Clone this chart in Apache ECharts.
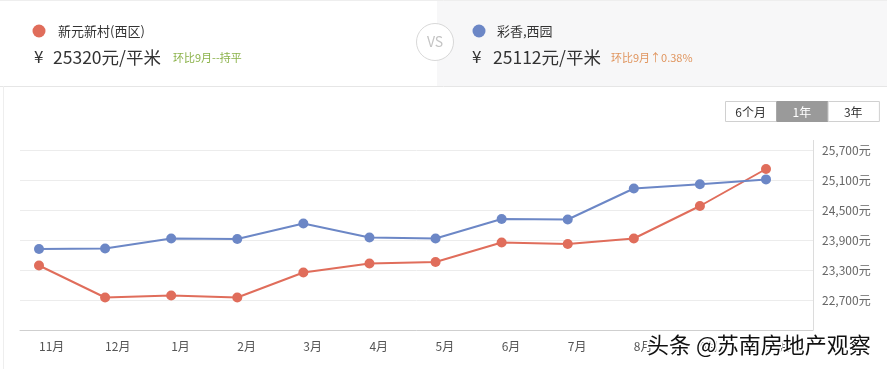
<!DOCTYPE html>
<html>
<head>
<meta charset="utf-8">
<script src="https://cdn.jsdelivr.net/npm/echarts@6/dist/echarts.min.js"></script>
<style>
html,body{margin:0;padding:0;background:#fff;}
#chart{width:887px;height:369px;}
</style>
</head>
<body>
<div id="chart"></div>
<script>
const months = ['11月','12月','1月','2月','3月','4月','5月','6月','7月','8月','9月','10月'];
const seriesAName = '新元新村(西区)';
const seriesBName = '彩香,西园';
const seriesA = [23390, 22750, 22790, 22750, 23250, 23430, 23460, 23850, 23820, 23930, 24580, 25320];
const seriesB = [23720, 23730, 23930, 23920, 24230, 23950, 23930, 24320, 24310, 24930, 25015, 25112];
const yMin = 22100, yMax = 25700, yStep = 600;
const currency = '¥';
const priceA = '25320元/平米', changeA = '环比9月--持平';
const priceB = '25112元/平米', changeB = '环比9月↑0.38%';
const rangeButtons = ['6个月', '1年', '3年'];
const watermark = '头条 @苏南房地产观察';

const RED = '#e06d5b', BLUE = '#6c87c6';
const FONT = '"Noto Sans CJK SC", "Noto Sans", sans-serif';

const chart = echarts.init(document.getElementById('chart'), null, {renderer: 'canvas'});

const graphics = [
  {type: 'rect', shape: {x: 437, y: 0, width: 450, height: 86}, style: {fill: '#f7f7f8'}, z: 0},
  {type: 'line', shape: {x1: 0, y1: 86.5, x2: 887, y2: 86.5}, style: {stroke: '#e6e6e6', lineWidth: 1}},
  {type: 'line', shape: {x1: 0, y1: 0.5, x2: 887, y2: 0.5}, style: {stroke: '#eeeeee', lineWidth: 1}},
  {type: 'line', shape: {x1: 3.5, y1: 86, x2: 3.5, y2: 369}, style: {stroke: '#eeeeee', lineWidth: 1}},
  {type: 'line', shape: {x1: 813.5, y1: 140, x2: 813.5, y2: 150}, style: {stroke: '#dcdcdc', lineWidth: 1}},
  {type: 'circle', shape: {cx: 435, cy: 42, r: 18.5}, style: {fill: '#fff', stroke: '#d8d8d8', lineWidth: 1}, z: 5},
  {type: 'text', x: 435, y: 42, style: {text: 'VS', fill: '#c4c4c4', font: '14px ' + FONT, align: 'center', verticalAlign: 'middle'}, z: 6},
  {type: 'circle', shape: {cx: 39, cy: 31, r: 6.5}, style: {fill: RED}},
  {type: 'text', x: 58, y: 31, style: {text: seriesAName, fill: '#333', font: '13px ' + FONT, verticalAlign: 'middle'}},
  {type: 'text', x: 34, y: 57, style: {text: currency, fill: '#333', font: '17px ' + FONT, verticalAlign: 'middle'}},
  {type: 'text', x: 53, y: 57, style: {text: priceA, fill: '#333', font: '17.5px ' + FONT, verticalAlign: 'middle'}},
  {type: 'text', x: 173, y: 58, style: {text: changeA, fill: '#8bb24a', font: '11px ' + FONT, verticalAlign: 'middle'}},
  {type: 'circle', shape: {cx: 479, cy: 31, r: 6.5}, style: {fill: BLUE}},
  {type: 'text', x: 497, y: 31, style: {text: seriesBName, fill: '#333', font: '13px ' + FONT, verticalAlign: 'middle'}},
  {type: 'text', x: 472, y: 57, style: {text: currency, fill: '#333', font: '17px ' + FONT, verticalAlign: 'middle'}},
  {type: 'text', x: 493, y: 57, style: {text: priceB, fill: '#333', font: '17.5px ' + FONT, verticalAlign: 'middle'}},
  {type: 'text', x: 611, y: 58, style: {text: changeB, fill: '#e0955e', font: '11px ' + FONT, verticalAlign: 'middle'}}
];
const bx0 = 725, bw = 51.3, by = 101, bh = 20;
rangeButtons.forEach((t, i) => {
  const active = i === 1;
  graphics.push({type: 'rect', shape: {x: bx0 + i * bw + 0.5, y: by + 0.5, width: bw, height: bh},
    style: {fill: active ? '#9a9a9a' : '#fff', stroke: active ? '#9a9a9a' : '#d0d0d0', lineWidth: 1}});
  graphics.push({type: 'text', x: bx0 + i * bw + bw / 2, y: by + bh / 2 + 1,
    style: {text: t, fill: active ? '#fff' : '#333', font: '12px ' + FONT, align: 'center', verticalAlign: 'middle'}, z: 3});
});
graphics.push({type: 'text', x: 647, y: 345, z: 100,
  style: {text: watermark, fill: '#111', font: '22px ' + FONT, verticalAlign: 'middle',
          stroke: '#fff', lineWidth: 3}});

const option = {
  animation: false,
  textStyle: {fontFamily: FONT},
  graphic: graphics,
  grid: [
    {left: 20, right: 74, top: 150, bottom: 39},
    {left: 39, right: 121, top: 150, bottom: 39}
  ],
  xAxis: [
    {gridIndex: 0, type: 'category', data: [''], boundaryGap: false,
     axisLine: {show: true, lineStyle: {color: '#cfcfcf'}}, axisTick: {show: false}, axisLabel: {show: false}, splitLine: {show: false}},
    {gridIndex: 1, type: 'category', data: months, boundaryGap: false,
     axisLine: {show: false}, axisTick: {show: false}, splitLine: {show: false},
     axisLabel: {color: '#555', fontSize: 12, align: 'left', margin: 10, interval: 0}}
  ],
  yAxis: [
    {gridIndex: 0, type: 'value', position: 'right', min: yMin, max: yMax, interval: yStep,
     axisLine: {show: true, lineStyle: {color: '#dcdcdc'}}, axisTick: {show: false},
     splitLine: {lineStyle: {color: '#ececec'}},
     axisLabel: {color: '#666', fontSize: 12, margin: 9, showMinLabel: false,
       formatter: v => v.toLocaleString('en-US') + '元'}},
    {gridIndex: 1, type: 'value', min: yMin, max: yMax, interval: yStep, show: false}
  ],
  series: [
    {name: seriesAName, type: 'line', xAxisIndex: 1, yAxisIndex: 1, data: seriesA,
     symbol: 'circle', symbolSize: 10, lineStyle: {color: RED, width: 2}, itemStyle: {color: RED}, z: 3},
    {name: seriesBName, type: 'line', xAxisIndex: 1, yAxisIndex: 1, data: seriesB,
     symbol: 'circle', symbolSize: 10, lineStyle: {color: BLUE, width: 2}, itemStyle: {color: BLUE}, z: 4}
  ]
};
chart.setOption(option);
</script>
</body>
</html>
